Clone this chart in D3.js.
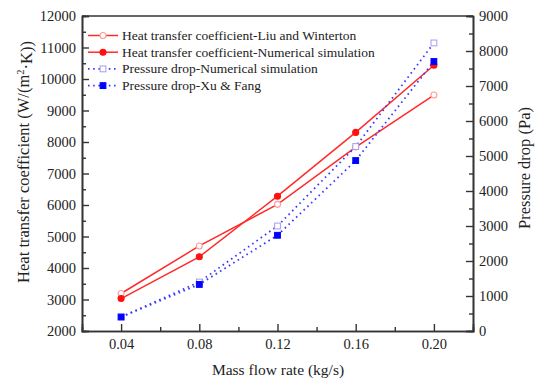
<!DOCTYPE html>
<html>
<head>
<meta charset="utf-8">
<script src="https://cdn.jsdelivr.net/npm/d3@7"></script>
<style>
  body { margin: 0; background: #fff; }
  svg { display: block; }
  svg text { font-family: "Liberation Serif", "Times New Roman", Times, serif; }
</style>
</head>
<body>
<svg id="chart" width="550" height="388"></svg>
<script>
// data
let massFlow = [0.04, 0.08, 0.12, 0.16, 0.20];
let htcLiu = [3190, 4700, 6020, 7840, 9490];
let htcNum = [3030, 4355, 6280, 8305, 10435];
let dpNum = [400, 1400, 3000, 5270, 8230];
let dpXu = [400, 1330, 2735, 4870, 7700];
let xTicks = [0.04, 0.08, 0.12, 0.16, 0.20];
let leftTicks = [2000, 3000, 4000, 5000, 6000, 7000, 8000, 9000, 10000, 11000, 12000];
let rightTicks = [0, 1000, 2000, 3000, 4000, 5000, 6000, 7000, 8000, 9000];

function drawChart() {
    let canvas = d3.select("#chart");
    let left = 82, right = 473, top = 16, bottom = 331;
    let font = "Liberation Serif";
    let axisColor = "#333";

    let x = d3.scaleLinear().domain([0.02, 0.22]).range([left, right]);
    let yL = d3.scaleLinear().domain([2000, 12000]).range([bottom, top]);
    let yR = d3.scaleLinear().domain([0, 9000]).range([bottom, top]);

    let series = [
        { name: "Heat transfer coefficient-Liu and Winterton", values: htcLiu, y: yL, line: "#ff2a2a", dash: null, shape: "circle", fill: "#fff", stroke: "#ff9a9a" },
        { name: "Heat transfer coefficient-Numerical simulation", values: htcNum, y: yL, line: "#ff2a2a", dash: null, shape: "circle", fill: "#ff1010", stroke: "#ff1010" },
        { name: "Pressure drop-Numerical simulation", values: dpNum, y: yR, line: "#3a3aff", dash: "1.6,3.6", shape: "square", fill: "#fff", stroke: "#a49cf0" },
        { name: "Pressure drop-Xu & Fang", values: dpXu, y: yR, line: "#3a3aff", dash: "1.6,3.6", shape: "square", fill: "#0000ff", stroke: "#0000ff" }
    ];

    // axes
    let xAxis = d3.axisBottom(x).tickValues(xTicks).tickSize(-7).tickFormat(d3.format(".2f"));
    let xMinor = d3.axisBottom(x).tickValues([0.06, 0.10, 0.14, 0.18]).tickSize(-4).tickFormat("");
    let yAxisL = d3.axisLeft(yL).tickValues(leftTicks).tickSize(-7).tickFormat(d3.format("d"));
    let yMinorL = d3.axisLeft(yL).tickValues(d3.range(2500, 12000, 1000)).tickSize(-4).tickFormat("");
    let yAxisR = d3.axisRight(yR).tickValues(rightTicks).tickSize(-7).tickFormat(d3.format("d"));
    let yMinorR = d3.axisRight(yR).tickValues(d3.range(500, 9000, 1000)).tickSize(-4).tickFormat("");

    function styleAxis(g) {
        g.attr("font-family", null).attr("font-size", null);
        g.select(".domain").attr("stroke", axisColor).attr("stroke-width", 1.6);
        g.selectAll(".tick line").attr("stroke", axisColor).attr("stroke-width", 1.4);
        g.selectAll(".tick text")
            .style("font-family", font)
            .style("font-size", "14.5px")
            .attr("fill", "#222");
    }

    canvas.append("g")
        .attr("transform", "translate(0," + bottom + ")")
        .call(xAxis).call(styleAxis)
        .selectAll(".tick text").attr("dy", "1.05em");
    canvas.append("g")
        .attr("transform", "translate(0," + bottom + ")")
        .call(xMinor).call(styleAxis);
    canvas.append("g")
        .attr("transform", "translate(" + left + ",0)")
        .call(yAxisL).call(styleAxis)
        .selectAll(".tick text").attr("x", -6);
    canvas.append("g")
        .attr("transform", "translate(" + left + ",0)")
        .call(yMinorL).call(styleAxis);
    canvas.append("g")
        .attr("transform", "translate(" + right + ",0)")
        .call(yAxisR).call(styleAxis)
        .selectAll(".tick text").attr("x", 6);
    canvas.append("g")
        .attr("transform", "translate(" + right + ",0)")
        .call(yMinorR).call(styleAxis);

    // top border
    canvas.append("line")
        .attr("x1", left).attr("x2", right)
        .attr("y1", top).attr("y2", top)
        .attr("stroke", axisColor).attr("stroke-width", 1.6);

    // axis labels
    canvas.append("text")
        .attr("text-anchor", "middle")
        .attr("x", 278)
        .attr("y", 375)
        .style("font-family", font)
        .style("font-size", "15.5px")
        .attr("fill", "#222")
        .text("Mass flow rate (kg/s)");

    let yLabel = canvas.append("text")
        .attr("text-anchor", "middle")
        .attr("transform", "translate(29,162) rotate(-90)")
        .style("font-family", font)
        .style("font-size", "16.5px")
        .attr("fill", "#222");
    yLabel.append("tspan").text("Heat transfer coefficient (W/(m");
    yLabel.append("tspan").attr("dy", "-0.45em").style("font-size", "10.5px").text("2");
    yLabel.append("tspan").attr("dy", "0.45em").text("\u00b7K))");

    canvas.append("text")
        .attr("text-anchor", "middle")
        .attr("transform", "translate(530,168) rotate(-90)")
        .style("font-family", font)
        .style("font-size", "16.5px")
        .attr("fill", "#222")
        .text("Pressure drop (Pa)");

    // lines
    let plot = canvas.append("g");
    series.forEach(s => {
        let line = d3.line()
            .x((d, i) => x(massFlow[i]))
            .y(d => s.y(d));
        plot.append("path")
            .datum(s.values)
            .attr("fill", "none")
            .attr("stroke", s.line)
            .attr("stroke-width", s.dash ? 1.8 : 1.5)
            .attr("stroke-dasharray", s.dash)
            .attr("d", line);
    });

    function drawMarker(g, s, cx, cy) {
        if (s.shape == "circle") {
            g.append("circle")
                .attr("cx", cx).attr("cy", cy).attr("r", 3)
                .attr("fill", s.fill).attr("stroke", s.stroke).attr("stroke-width", 1.1);
        } else {
            g.append("rect")
                .attr("x", cx - 2.9).attr("y", cy - 2.9)
                .attr("width", 5.8).attr("height", 5.8)
                .attr("fill", s.fill).attr("stroke", s.stroke).attr("stroke-width", 1);
        }
    }

    series.forEach(s => {
        s.values.forEach((v, i) => {
            drawMarker(plot, s, x(massFlow[i]), s.y(v));
        });
    });

    // legend
    let legend = canvas.append("g");
    series.forEach((s, i) => {
        let ly = 35.5 + i * 16.7;
        legend.append("line")
            .attr("x1", 88).attr("x2", 118)
            .attr("y1", ly).attr("y2", ly)
            .attr("stroke", s.line)
            .attr("stroke-width", s.dash ? 1.8 : 1.5)
            .attr("stroke-dasharray", s.dash);
        drawMarker(legend, s, 103, ly);
        legend.append("text")
            .attr("x", 122)
            .attr("y", ly + 4.5)
            .style("font-family", font)
            .style("font-size", "13.5px")
            .attr("fill", "#222")
            .text(s.name);
    });
}

drawChart();
</script>
</body>
</html>
